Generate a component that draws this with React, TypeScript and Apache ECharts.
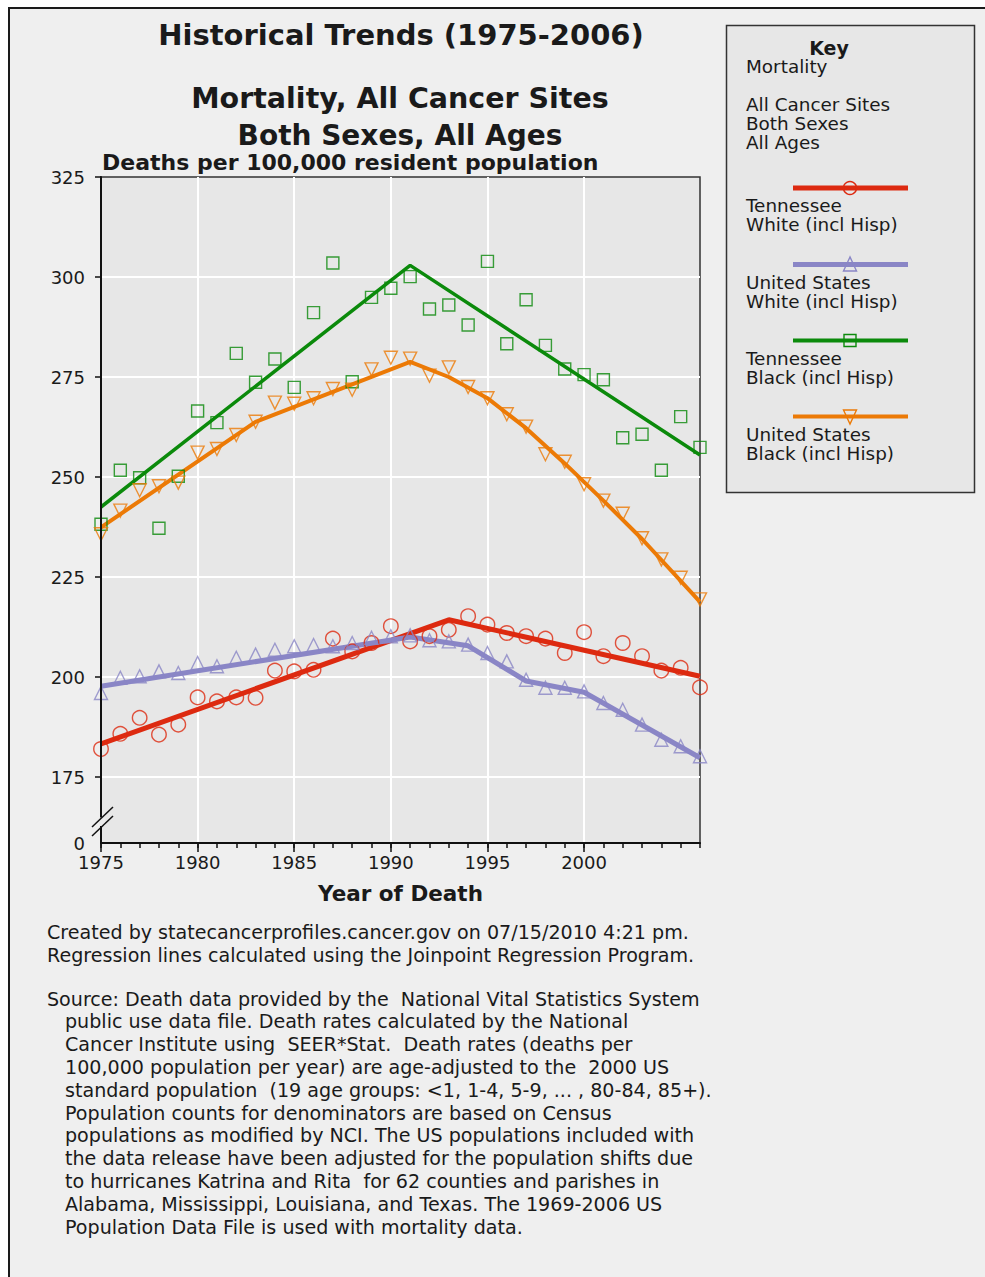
import React, { useEffect, useRef } from "react";
import * as echarts from "echarts";

// ---------- data ----------
const years = [
  1975, 1976, 1977, 1978, 1979, 1980, 1981, 1982, 1983, 1984, 1985, 1986, 1987, 1988, 1989, 1990,
  1991, 1992, 1993, 1994, 1995, 1996, 1997, 1998, 1999, 2000, 2001, 2002, 2003, 2004, 2005, 2006,
];

// observed age-adjusted death rates (per 100,000)
const tnWhite = [
  182.0, 185.8, 189.8, 185.6, 188.1, 194.9, 193.9, 194.9, 194.8, 201.6, 201.4, 201.8, 209.6, 206.4, 208.5, 212.7,
  208.9, 210.2, 211.8, 215.2, 213.1, 211.0, 210.2, 209.6, 206.0, 211.2, 205.2, 208.5, 205.2, 201.6, 202.3, 197.4,
];
const usWhite = [
  196.0, 199.8, 200.2, 201.4, 201.0, 203.5, 202.7, 204.8, 205.6, 206.8, 207.7, 208.0, 207.7, 208.5, 209.8, 210.2,
  210.4, 209.2, 208.9, 208.1, 206.0, 203.9, 199.3, 197.3, 197.3, 196.4, 193.5, 191.8, 188.1, 184.3, 182.7, 180.2,
];
const tnBlack = [
  238.2, 251.7, 249.8, 237.2, 250.2, 266.5, 263.6, 280.9, 273.7, 279.5, 272.4, 291.1, 303.5, 273.8, 294.9, 297.2,
  300.1, 292.0, 293.0, 288.0, 303.9, 283.3, 294.3, 282.9, 277.0, 275.6, 274.3, 259.8, 260.7, 251.7, 265.1, 257.4,
];
const usBlack = [
  235.7, 241.6, 246.7, 247.7, 248.6, 256.1, 257.0, 260.5, 263.8, 268.6, 268.3, 269.7, 272.0, 271.8, 276.9, 279.8,
  279.6, 275.3, 277.4, 272.5, 269.7, 265.7, 262.6, 255.7, 253.8, 248.2, 244.1, 240.8, 234.7, 229.4, 224.8, 219.4,
];

// joinpoint regression lines (vertices)
const tnWhiteTrendYears = [1975, 1993, 2006];
const tnWhiteTrendValues = [183.3, 214.3, 200.2];
const usWhiteTrendYears = [1975, 1991, 1994, 1997, 2000, 2006];
const usWhiteTrendValues = [197.7, 210.0, 207.8, 199.0, 196.2, 179.8];
const tnBlackTrendYears = [1975, 1991, 2006];
const tnBlackTrendValues = [242.5, 302.9, 255.5];
const usBlackTrendYears = [1975, 1983, 1991, 1993, 1995, 1997, 1999, 2001, 2003, 2006];
const usBlackTrendValues = [237.4, 263.8, 278.8, 275.0, 269.7, 262.2, 253.4, 244.1, 234.5, 218.8];

// axes
const xTickLabels = [1975, 1980, 1985, 1990, 1995, 2000];
const xGridValues = [1980, 1985, 1990, 1995, 2000];
const yTickValues = [175, 200, 225, 250, 275, 300, 325];
const yGridValues = [175, 200, 225, 250, 275, 300];
const Y_BREAK_BOTTOM = 158.5; // bottom of broken axis, labelled "0"

const seriesNames = [
  ["Tennessee", "White (incl Hisp)"],
  ["United States", "White (incl Hisp)"],
  ["Tennessee", "Black (incl Hisp)"],
  ["United States", "Black (incl Hisp)"],
];

const footLines = [
  "Created by statecancerprofiles.cancer.gov on 07/15/2010 4:21 pm.",
  "Regression lines calculated using the Joinpoint Regression Program.",
];
const sourceLines = [
  "Source: Death data provided by the  National Vital Statistics System",
  "public use data file. Death rates calculated by the National",
  "Cancer Institute using  SEER*Stat.  Death rates (deaths per",
  "100,000 population per year) are age-adjusted to the  2000 US",
  "standard population  (19 age groups: <1, 1-4, 5-9, ... , 80-84, 85+).",
  "Population counts for denominators are based on Census",
  "populations as modified by NCI. The US populations included with",
  "the data release have been adjusted for the population shifts due",
  "to hurricanes Katrina and Rita  for 62 counties and parishes in",
  "Alabama, Mississippi, Louisiana, and Texas. The 1969-2006 US",
  "Population Data File is used with mortality data.",
];

// ---------- style ----------
const FONT = "DejaVu Sans";
const RED = "#dd2a10";
const PURPLE = "#8a86c6";
const GREEN = "#0b8a0b";
const ORANGE = "#ec7a06";
const PLOT_BG = "#e7e7e7";
const TEXT = "#1a1a1a";
const LEGEND_FS = 18.4;

const pairs = (xs: number[], ys: number[]) => xs.map((x, i) => [x, ys[i]]);

function trend(name: string, xs: number[], ys: number[], color: string, width: number, extra: any = {}) {
  return {
    name,
    type: "line",
    data: pairs(xs, ys),
    symbol: "none",
    lineStyle: { color, width },
    itemStyle: { color },
    z: 3,
    silent: true,
    ...extra,
  };
}

function points(name: string, vals: number[], color: string, symbol: string, size: number, rotate = 0) {
  return {
    name,
    type: "scatter",
    data: pairs(years, vals),
    symbol,
    symbolSize: size,
    symbolRotate: rotate,
    itemStyle: { color: "rgba(0,0,0,0)", borderColor: color, borderWidth: 1.4 },
    z: 4,
    silent: true,
  };
}

function txt(text: string, x: number, y: number, size: number, opts: any = {}) {
  return {
    type: "text",
    x,
    y,
    z: 100,
    silent: true,
    style: {
      text,
      fontSize: size,
      fontFamily: FONT,
      fontWeight: opts.bold ? "bold" : "normal",
      fill: opts.color || TEXT,
      align: opts.align || "left",
      verticalAlign: "middle",
    },
  };
}

function buildGraphic() {
  const g: any[] = [];
  // titles
  g.push(txt("Historical Trends (1975-2006)", 401, 35, 29, { bold: true, align: "center" }));
  g.push(txt("Mortality, All Cancer Sites", 400, 98, 28.5, { bold: true, align: "center" }));
  g.push(txt("Both Sexes, All Ages", 400, 135, 28, { bold: true, align: "center" }));
  g.push(txt("Deaths per 100,000 resident population", 102, 162, 22, { bold: true }));

  // axis break marks
  g.push({ type: "rect", z: 100, silent: true, shape: { x: 99, y: 817.5, width: 6, height: 8.5 }, style: { fill: "#ebebeb" } });
  g.push({ type: "line", z: 101, silent: true, shape: { x1: 92, y1: 827, x2: 113, y2: 807 }, style: { stroke: "#111", lineWidth: 1.5 } });
  g.push({ type: "line", z: 101, silent: true, shape: { x1: 92, y1: 836, x2: 113, y2: 816 }, style: { stroke: "#111", lineWidth: 1.5 } });

  // legend box
  g.push({ type: "rect", z: 90, silent: true, shape: { x: 726.5, y: 25.5, width: 248, height: 467 }, style: { fill: PLOT_BG, stroke: "#333", lineWidth: 1.5 } });
  g.push(txt("Key", 829, 48, 19, { bold: true, align: "center" }));
  g.push(txt("Mortality", 746, 66.5, LEGEND_FS));
  g.push(txt("All Cancer Sites", 746, 104.5, LEGEND_FS));
  g.push(txt("Both Sexes", 746, 123.5, LEGEND_FS));
  g.push(txt("All Ages", 746, 142.5, LEGEND_FS));

  const legendRows = [
    { y: 188, color: RED, width: 5 },
    { y: 264.5, color: PURPLE, width: 5 },
    { y: 340.5, color: GREEN, width: 4 },
    { y: 416.5, color: ORANGE, width: 4 },
  ];
  legendRows.forEach((r, i) => {
    g.push({ type: "line", z: 100, silent: true, shape: { x1: 793, y1: r.y, x2: 908, y2: r.y }, style: { stroke: r.color, lineWidth: r.width } });
    g.push(txt(seriesNames[i][0], 746, r.y + 17.5, LEGEND_FS));
    g.push(txt(seriesNames[i][1], 746, r.y + 36.5, LEGEND_FS));
  });
  g.push({ type: "circle", z: 101, silent: true, shape: { cx: 850, cy: 188, r: 6.5 }, style: { fill: "none", stroke: RED, lineWidth: 1.4 } });
  g.push({ type: "polygon", z: 101, silent: true, shape: { points: [[850, 257], [843.5, 271], [856.5, 271]] }, style: { fill: "none", stroke: PURPLE, lineWidth: 1.4 } });
  g.push({ type: "rect", z: 101, silent: true, shape: { x: 844, y: 334.5, width: 12, height: 12 }, style: { fill: "none", stroke: GREEN, lineWidth: 1.4 } });
  g.push({ type: "polygon", z: 101, silent: true, shape: { points: [[843.5, 410], [856.5, 410], [850, 424]] }, style: { fill: "none", stroke: ORANGE, lineWidth: 1.4 } });

  // footnotes
  footLines.forEach((t, i) => g.push(txt(t, 47, 932 + i * 23, 19.1)));
  sourceLines.forEach((t, i) => g.push(txt(t, i === 0 ? 47 : 65, 999 + i * 22.8, 19.1)));
  return g;
}

function buildOption() {
  const axisLine = { show: true, onZero: false, lineStyle: { color: "#111", width: 2 } };
  const tickStyle = { color: "#111", width: 1.5 };
  return {
    animation: false,
    backgroundColor: "transparent",
    grid: {
      left: 101,
      top: 177,
      width: 599,
      height: 666,
      show: true,
      backgroundColor: PLOT_BG,
      borderColor: "#333",
      borderWidth: 1.5,
    },
    xAxis: [
      {
        type: "value",
        min: 1975,
        max: 2006,
        position: "bottom",
        z: 5,
        axisLine,
        axisTick: { show: true, customValues: xTickLabels, length: 9, lineStyle: tickStyle },
        axisLabel: {
          customValues: xTickLabels,
          formatter: (v: number) => String(v),
          fontSize: 18,
          fontFamily: FONT,
          color: TEXT,
          margin: 10,
        },
        splitLine: { show: false },
        name: "Year of Death",
        nameLocation: "middle",
        nameGap: 39,
        nameTextStyle: { fontFamily: FONT, fontWeight: "bold", fontSize: 21.5, color: TEXT },
      },
      {
        type: "value",
        min: 1975,
        max: 2006,
        position: "bottom",
        z: 5,
        axisLine: { show: false },
        axisTick: { show: true, customValues: years, length: 5, lineStyle: tickStyle },
        axisLabel: { show: false },
        splitLine: { show: false },
      },
    ],
    yAxis: {
      type: "value",
      min: Y_BREAK_BOTTOM,
      max: 325,
      z: 5,
      axisLine,
      axisTick: { show: true, customValues: yTickValues, length: 6, lineStyle: tickStyle },
      axisLabel: {
        customValues: [Y_BREAK_BOTTOM, ...yTickValues],
        formatter: (v: number) => (v < 170 ? "0" : String(v)),
        fontSize: 18,
        fontFamily: FONT,
        color: TEXT,
        margin: 16,
      },
      splitLine: { show: false },
    },
    series: [
      trend("Tennessee White (incl Hisp) trend", tnWhiteTrendYears, tnWhiteTrendValues, RED, 5, {
        markLine: {
          silent: true,
          z: 1,
          symbol: ["none", "none"],
          label: { show: false },
          lineStyle: { color: "#ffffff", width: 2, type: "solid" },
          emphasis: { disabled: true },
          data: [...yGridValues.map((v) => ({ yAxis: v })), ...xGridValues.map((v) => ({ xAxis: v }))],
        },
      }),
      points("Tennessee White (incl Hisp)", tnWhite, RED, "circle", 14.5),
      trend("United States White (incl Hisp) trend", usWhiteTrendYears, usWhiteTrendValues, PURPLE, 5),
      points("United States White (incl Hisp)", usWhite, PURPLE, "triangle", 13),
      trend("Tennessee Black (incl Hisp) trend", tnBlackTrendYears, tnBlackTrendValues, GREEN, 3.5),
      points("Tennessee Black (incl Hisp)", tnBlack, GREEN, "rect", 12),
      trend("United States Black (incl Hisp) trend", usBlackTrendYears, usBlackTrendValues, ORANGE, 4),
      points("United States Black (incl Hisp)", usBlack, ORANGE, "triangle", 13, 180),
    ],
    graphic: { elements: buildGraphic() },
  };
}

export default function App() {
  const ref = useRef<HTMLDivElement>(null);
  useEffect(() => {
    if (!ref.current) return;
    const chart = echarts.init(ref.current, null, { renderer: "svg" });
    chart.setOption(buildOption() as any);
    return () => chart.dispose();
  }, []);
  return (
    <div style={{ position: "fixed", left: 0, top: 0, width: 985, height: 1277, background: "#ffffff", overflow: "hidden" }}>
      <div
        style={{
          position: "absolute",
          left: 8,
          top: 7,
          width: 1000,
          height: 1300,
          border: "2px solid #1a1a1a",
          background: "#efefef",
          boxSizing: "border-box",
        }}
      />
      <div ref={ref} style={{ position: "absolute", left: 0, top: 0, width: 985, height: 1277 }} />
    </div>
  );
}
